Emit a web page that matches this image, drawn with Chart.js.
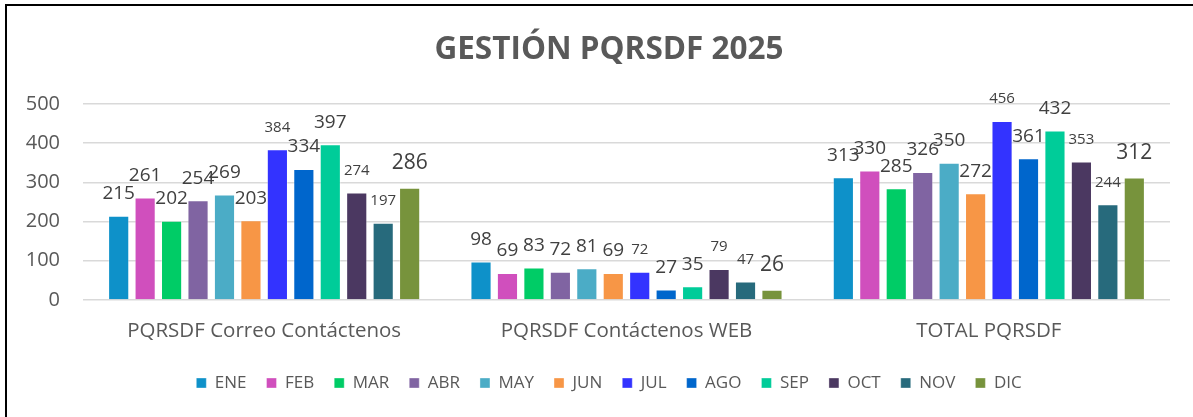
<!DOCTYPE html>
<html>
<head>
<meta charset="utf-8">
<script src="https://cdn.jsdelivr.net/npm/chart.js@4.4.1/dist/chart.umd.min.js"></script>
<style>
  html, body { margin: 0; padding: 0; background: #fff; width: 1193px; height: 417px; overflow: hidden; }
  #frame { position: absolute; left: 5px; top: 4px; width: 1188px; height: 413px; border-left: 2px solid #000; border-top: 2px solid #000; }
  #wrap { position: absolute; left: 0; top: 0; width: 1186px; height: 411px; }
</style>
</head>
<body>
<div id="frame"><div id="wrap"><canvas id="c"></canvas></div></div>
<script>
const categories = ['PQRSDF Correo Contáctenos', 'PQRSDF Contáctenos WEB', 'TOTAL PQRSDF'];
const months = ['ENE', 'FEB', 'MAR', 'ABR', 'MAY', 'JUN', 'JUL', 'AGO', 'SEP', 'OCT', 'NOV', 'DIC'];
const ENE = [215, 98, 313];
const FEB = [261, 69, 330];
const MAR = [202, 83, 285];
const ABR = [254, 72, 326];
const MAY = [269, 81, 350];
const JUN = [203, 69, 272];
const JUL = [384, 72, 456];
const AGO = [334, 27, 361];
const SEP = [397, 35, 432];
const OCT = [274, 79, 353];
const NOV = [197, 47, 244];
const DIC = [286, 26, 312];
const yTicks = [0, 100, 200, 300, 400, 500];

const seriesValues = [ENE, FEB, MAR, ABR, MAY, JUN, JUL, AGO, SEP, OCT, NOV, DIC];
const colors = ['#0E91C9', '#D04FBD', '#00CC66', '#8064A2', '#4BACC6', '#F79646', '#3333FF', '#0066CC', '#00CC99', '#4B3861', '#276A7C', '#77933C'];
const labelSizes = [19, 19, 19, 19, 19, 19, 15, 19, 19, 15, 15, 21];

const FONT = "'Open Sans', 'Liberation Sans', sans-serif";

const labelPlugin = {
  id: 'barLabels',
  afterDatasetsDraw(chart) {
    const ctx = chart.ctx;
    ctx.save();
    ctx.textAlign = 'center';
    ctx.textBaseline = 'middle';
    ctx.fillStyle = '#404040';
    chart.data.datasets.forEach((ds, di) => {
      const meta = chart.getDatasetMeta(di);
      ctx.font = ds.labelSize + 'px ' + FONT;
      meta.data.forEach((bar, i) => {
        const off = ds.labelSize > 20 ? 25 : 22;
        ctx.fillText(String(ds.data[i]), bar.x, bar.y - off);
      });
    });
    ctx.restore();
  }
};

new Chart(document.getElementById('c'), {
  type: 'bar',
  data: {
    labels: categories,
    datasets: months.map((m, i) => ({
      label: m,
      data: seriesValues[i],
      backgroundColor: colors[i],
      borderColor: 'rgba(255,255,255,0.35)',
      borderWidth: 1,
      barPercentage: 0.8,
      categoryPercentage: 0.876,
      labelSize: labelSizes[i]
    }))
  },
  options: {
    responsive: true,
    maintainAspectRatio: false,
    animation: false,
    layout: { padding: { left: 18, right: 0, top: 14, bottom: 15.5 } },
    plugins: {
      title: {
        display: true,
        text: 'GESTIÓN PQRSDF 2025',
        color: '#595959',
        font: { family: FONT, size: 31.5, weight: 'bold' },
        padding: { top: 11, bottom: 35 }
      },
      legend: {
        position: 'bottom',
        labels: {
          color: '#595959',
          font: { family: FONT, size: 17 },
          boxWidth: 10,
          boxHeight: 10,
          padding: 20
        }
      },
      tooltip: { enabled: false }
    },
    scales: {
      x: {
        grid: { display: false },
        border: { display: false },
        ticks: { color: '#595959', font: { family: FONT, size: 20.5 }, padding: 11 },
        afterFit(axis) { axis.height = 54.5; axis.paddingLeft = 0; axis.paddingRight = 0; }
      },
      y: {
        min: 0,
        max: 500,
        afterBuildTicks(axis) { axis.ticks = yTicks.map(v => ({ value: v })); },
        afterFit(axis) { axis.width = 58; },
        grid: { color: '#D9D9D9', lineWidth: 1.5, drawTicks: false },
        border: { display: false },
        ticks: { color: '#595959', font: { family: FONT, size: 20 }, padding: 23 }
      },
      yRight: {
        position: 'right',
        display: true,
        grid: { display: false },
        border: { display: false },
        ticks: { display: false },
        afterFit(axis) { axis.width = 23; }
      }
    }
  },
  plugins: [labelPlugin]
});
</script>
</body>
</html>
